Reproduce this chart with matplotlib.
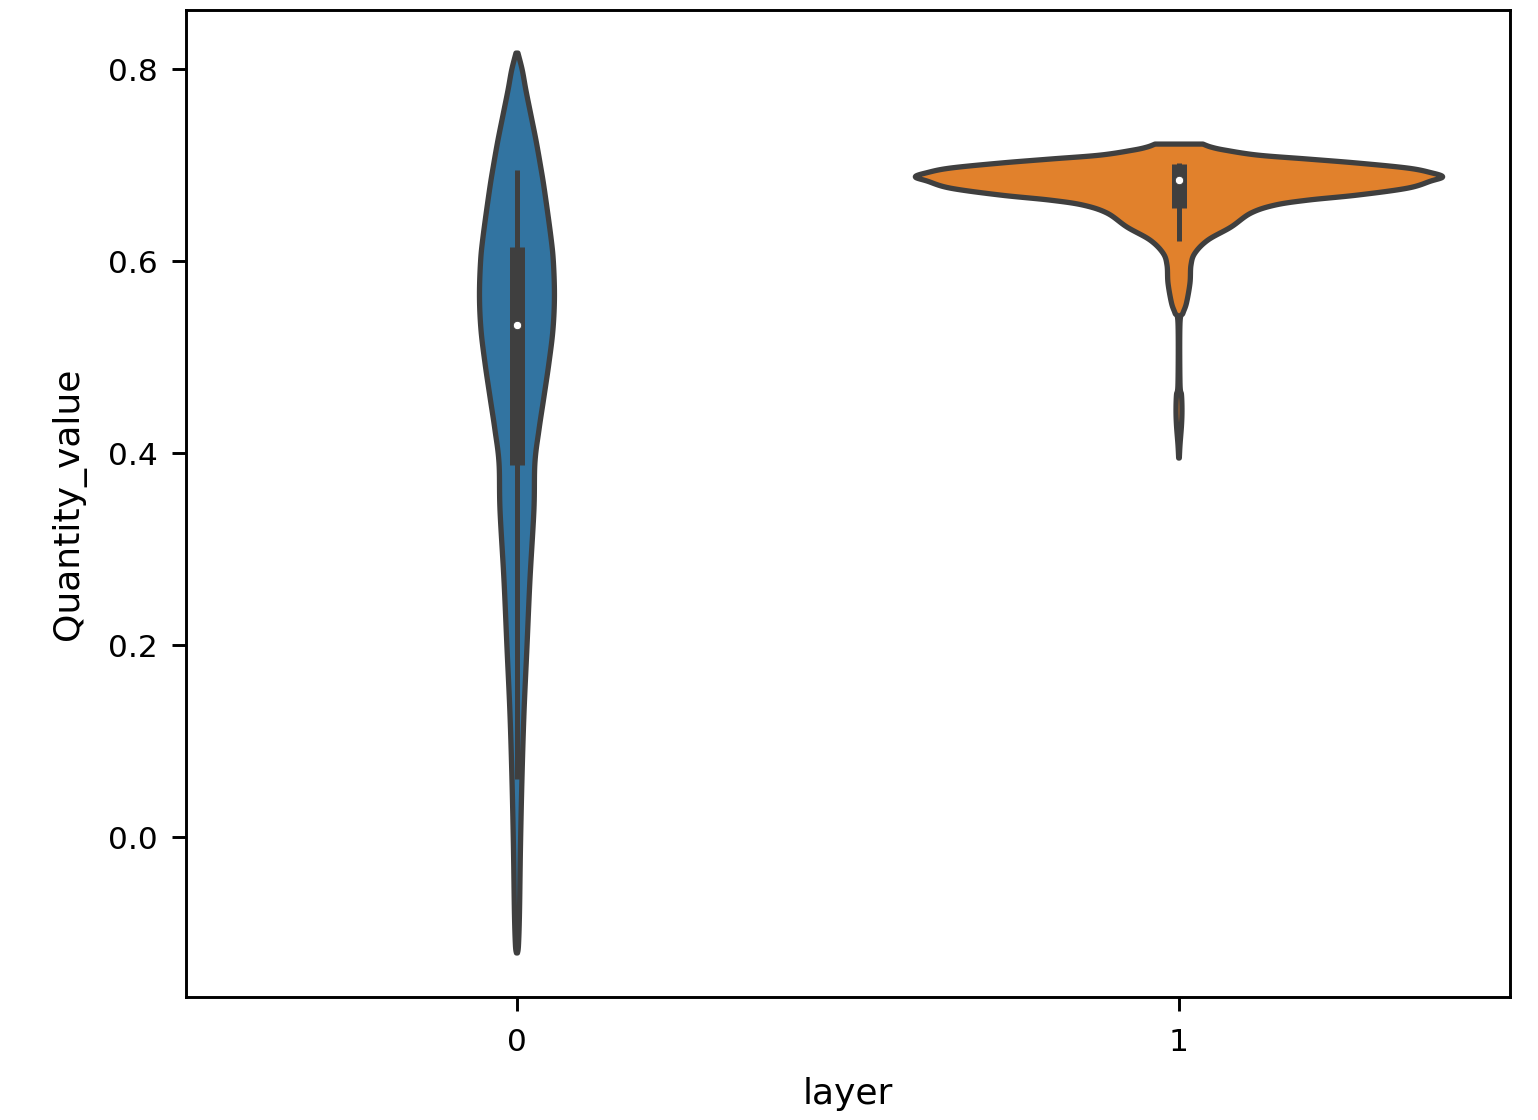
import numpy as np
import matplotlib
matplotlib.use("Agg")
import matplotlib.pyplot as plt

# categories on the x axis
layers = [0, 1]
colors = ["#3274a1", "#e1812c"]
gray = "#3f3f3f"

# violin outlines: value -> half width (in category units)
v0_y = [0.8167, 0.7990, 0.7781, 0.7521, 0.7260, 0.7000, 0.6740, 0.6250, 0.5979,
        0.5625, 0.5281, 0.4938, 0.4583, 0.4240, 0.3896, 0.3406, 0.2677, 0.1979,
        0.1292, 0.0594, -0.0104, -0.0792, -0.1125, -0.1208]
v0_hw = [0.0015, 0.0080, 0.0135, 0.0211, 0.0287, 0.0354, 0.0415, 0.0513, 0.0551,
         0.0566, 0.0543, 0.0483, 0.0407, 0.0332, 0.0271, 0.0256, 0.0196, 0.0151,
         0.0106, 0.0075, 0.0053, 0.0038, 0.0023, 0.0008]

v1_y = [0.7219, 0.7188, 0.7156, 0.7104, 0.7063, 0.7021, 0.6969, 0.6922, 0.6878,
        0.6833, 0.6760, 0.6688, 0.6635, 0.6583, 0.6500, 0.6354, 0.6219, 0.6083,
        0.5958, 0.5771, 0.5563, 0.5458, 0.5354, 0.4729, 0.4604, 0.4448, 0.4292,
        0.4083, 0.3948]
v1_hw = [0.0362, 0.0483, 0.0694, 0.1192, 0.1946, 0.2700, 0.3454, 0.3801, 0.3982,
         0.3801, 0.3454, 0.2700, 0.1946, 0.1448, 0.1086, 0.0784, 0.0437, 0.0241,
         0.0181, 0.0166, 0.0113, 0.0060, 0.0015, 0.0015, 0.0038, 0.0045, 0.0038,
         0.0015, 0.0005]

# box statistics
q1 = [0.3875, 0.6552]
q3 = [0.6146, 0.7010]
medians = [0.5333, 0.6844]
whisk_lo = [0.06, 0.6208]
whisk_hi = [0.6948, 0.7020]

profiles = [(v0_y, v0_hw), (v1_y, v1_hw)]


def catmull_rom(px, py, n=12):
    # smooth curve through the outline points (drawing only)
    p = np.column_stack([px, py])
    p = np.vstack([p[0], p, p[-1]])
    out = []
    t = np.linspace(0, 1, n, endpoint=False)[:, None]
    for k in range(1, len(p) - 2):
        p0, p1, p2, p3 = p[k - 1], p[k], p[k + 1], p[k + 2]
        seg = 0.5 * ((2 * p1) + (-p0 + p2) * t
                     + (2 * p0 - 5 * p1 + 4 * p2 - p3) * t ** 2
                     + (-p0 + 3 * p1 - 3 * p2 + p3) * t ** 3)
        out.append(seg)
    out.append(p[-2][None, :])
    out = np.vstack(out)
    return out[:, 0], out[:, 1]


fig = plt.figure(figsize=(15.38, 11.2), dpi=100)
ax = fig.add_axes([0.1209, 0.1098, 0.8609, 0.8812])

# pixel scale per unit, so the smoothing works in screen-like space
sx, sy = 663.0, 960.0

for i, (py, phw) in enumerate(profiles):
    hx, hy = catmull_rom(np.array(phw) * sx, np.array(py) * sy)
    hx = np.clip(hx / sx, 0, None)
    hy = hy / sy
    xs = np.concatenate([layers[i] + hx, (layers[i] - hx)[::-1]])
    ys = np.concatenate([hy, hy[::-1]])
    ax.fill(xs, ys, facecolor=colors[i], edgecolor=gray, linewidth=3.8,
            joinstyle="round", zorder=1)
    # whiskers and box
    ax.plot([layers[i], layers[i]], [whisk_lo[i], whisk_hi[i]],
            color=gray, linewidth=3.6, solid_capstyle="butt", zorder=2)
    ax.plot([layers[i], layers[i]], [q1[i], q3[i]],
            color=gray, linewidth=10.8, solid_capstyle="butt", zorder=2)
    ax.scatter([layers[i]], [medians[i]], s=36, color="white",
               edgecolor=gray, linewidth=0.6, zorder=3)

ax.set_xlim(-0.5, 1.5)
ax.set_ylim(-0.1667, 0.8615)
ax.set_xticks(layers)
ax.set_xticklabels([str(l) for l in layers])
ax.set_yticks([0.0, 0.2, 0.4, 0.6, 0.8])
ax.set_yticklabels(["0.0", "0.2", "0.4", "0.6", "0.8"])
ax.tick_params(labelsize=22.5, length=10, width=2.1, pad=10)
ax.tick_params(axis="x", pad=12)
for s in ax.spines.values():
    s.set_linewidth(2.1)

ax.set_xlabel("layer", fontsize=26, labelpad=15)
ax.set_ylabel("Quantity_value", fontsize=26, labelpad=16)

fig.savefig("out.png", dpi=100)
